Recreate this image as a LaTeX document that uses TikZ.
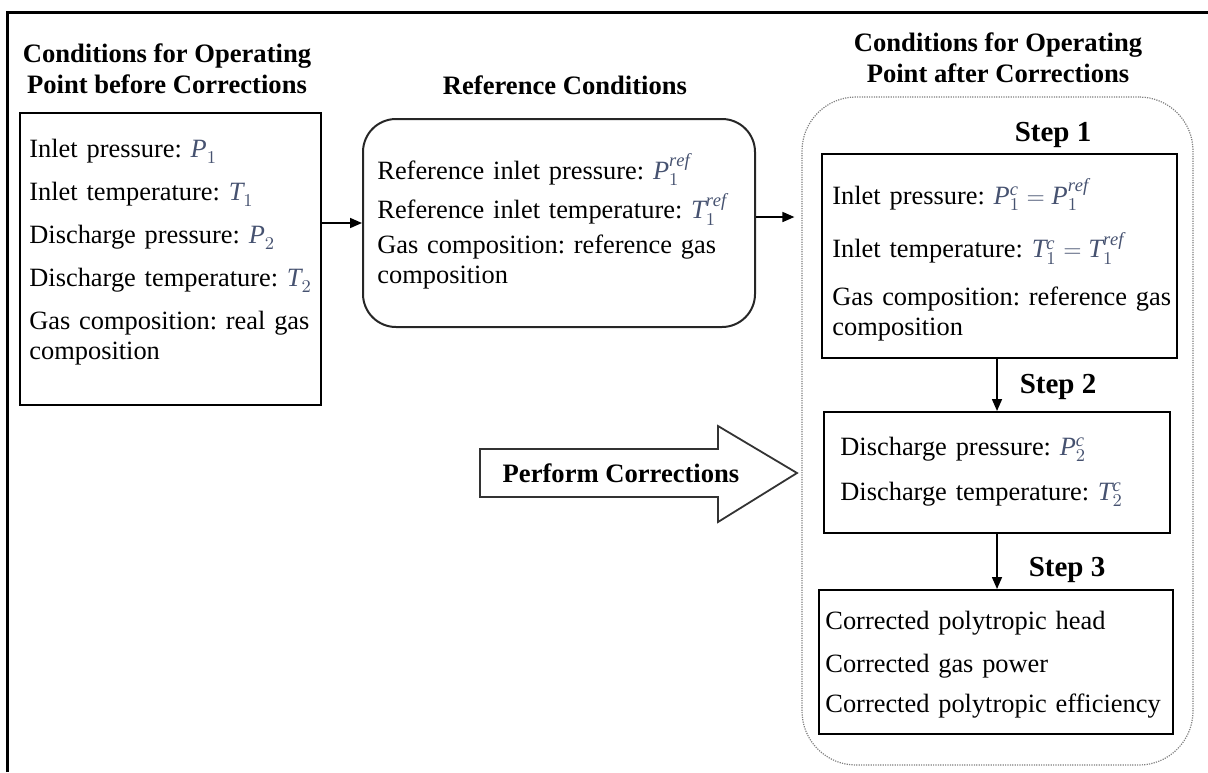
\documentclass[tikz,border=0pt]{standalone}
\usepackage{fontspec}
\setmainfont{Liberation Serif}
\usetikzlibrary{arrows.meta}
\frenchspacing
\definecolor{symcol}{RGB}{70,82,112}
\newcommand{\qv}[3]{\textcolor{symcol}{$\mathit{#1}_{#2}^{\mathit{#3}}$}}
\tikzstyle{frame}=[draw, line width=1pt, inner sep=0pt]
\tikzstyle{listtext}=[anchor=base west, inner sep=0pt, text width=200pt, align=left, font=\fontsize{13.2}{15}\selectfont]
\tikzstyle{heading}=[font=\fontsize{13.3}{15.5}\selectfont\bfseries, align=center, inner sep=0pt]
\tikzstyle{steplabel}=[font=\fontsize{14.5}{16}\selectfont\bfseries, inner sep=0pt]
\tikzstyle{flow}=[line width=0.8pt, -{Triangle[length=6pt,width=5pt]}]

\begin{document}
\begin{tikzpicture}[x=0.5pt, y=-0.5pt]
\useasboundingbox (0,0) rectangle (1208,772);
% Outer frame
    \draw[line width=1.5pt] (7,772) -- (7,12) -- (1208,12);
% Headings
    \node[heading] (beforehead) at (167,69) {Conditions for Operating\\Point before Corrections};
    \node[heading] (refhead) at (565,85) {Reference Conditions};
    \node[heading] (afterhead) at (998,58) {Conditions for Operating\\Point after Corrections};
% Boxes
    \node[frame, minimum width=150.5pt, minimum height=146pt] (before) at (170.5,259) {};
    \node[frame, draw=black!85, rounded corners=16.5pt, minimum width=196pt, minimum height=104pt] (ref) at (559,223) {};
    \node[draw=gray, line width=0.6pt, dash pattern=on 0.6pt off 0.6pt, rounded corners=27pt, inner sep=0pt, minimum width=195.5pt, minimum height=334pt] (after) at (997.5,431) {};
    \node[frame, minimum width=177.5pt, minimum height=102pt] (step1) at (999.5,256) {};
    \node[frame, minimum width=173pt, minimum height=60.5pt] (step2) at (997,472.5) {};
    \node[frame, minimum width=177pt, minimum height=72pt] (step3) at (996,662) {};
% Box contents
    \node[listtext] (beforetxt) at (29,157) {Inlet pressure: \qv{P}{1}{}\\[6.5pt]
        Inlet temperature: \qv{T}{1}{}\\[6.5pt]
        Discharge pressure: \qv{P}{2}{}\\[6.5pt]
        Discharge temperature: \qv{T}{2}{}\\[6.5pt]
        Gas composition: real gas\\composition};
    \node[listtext] (reftxt) at (377,179) {Reference inlet pressure: \qv{P}{1}{ref}\\[3pt]
        Reference inlet temperature: \qv{T}{1}{ref}\\[2.5pt]
        Gas composition: reference gas\\composition};
    \node[listtext] (step1txt) at (832,204) {Inlet pressure: \textcolor{symcol}{$\mathit{P}_1^{\mathit{c}} = \mathit{P}_1^{\mathit{ref}}$}\\[10pt]
        Inlet temperature: \textcolor{symcol}{$\mathit{T}_1^{\mathit{c}} = \mathit{T}_1^{\mathit{ref}}$}\\[9pt]
        Gas composition: reference gas\\composition};
    \node[listtext] (step2txt) at (840,455) {Discharge pressure: \qv{P}{2}{c}\\[7.5pt]
        Discharge temperature: \qv{T}{2}{c}};
    \node[listtext] (step3txt) at (825,629) {Corrected polytropic head\\[6.5pt]
        Corrected gas power\\[5pt]
        Corrected polytropic efficiency};
% Step labels
    \node[steplabel] (s1) at (1053,135) {Step 1};
    \node[steplabel] (s2) at (1058,387) {Step 2};
    \node[steplabel] (s3) at (1067,570) {Step 3};
% Connectors
    \draw[flow] (before.east |- ref.west) -- (ref.west);
    \draw[flow, shorten >=3.5pt] ([yshift=3pt]ref.east) -- ([yshift=3pt]ref.east -| after.west);
    \draw[flow] (step2.north |- step1.south) -- (step2.north);
    \draw[flow] (step2.south) -- (step2.south |- step3.north);
% Perform corrections block arrow
    \draw[line width=0.9pt, draw=black!80] (480,449) -- (718,449) -- (718,426) -- (797,473)
        -- (718,522) -- (718,497) -- (480,497) -- cycle;
    \node[heading] (perform) at (621,473) {Perform Corrections};
\end{tikzpicture}
\end{document}
